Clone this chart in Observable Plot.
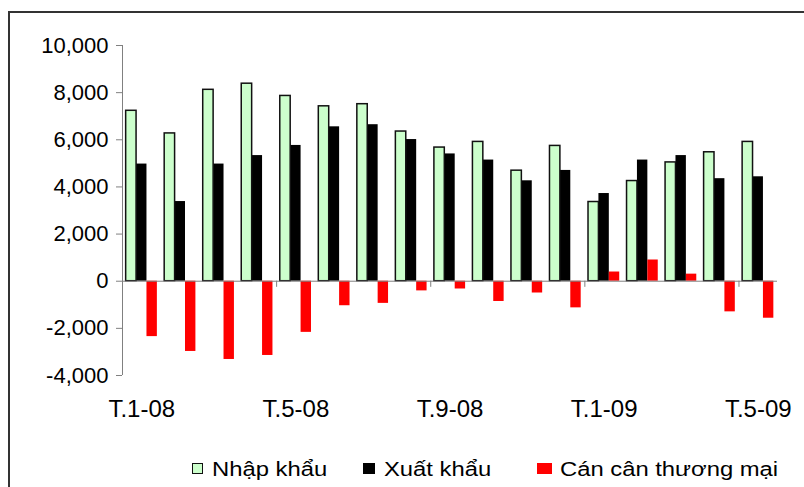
<!DOCTYPE html>
<html>
<head>
<meta charset="utf-8">
<script src="https://cdn.jsdelivr.net/npm/d3@7"></script>
<script src="https://cdn.jsdelivr.net/npm/@observablehq/plot@0.6"></script>
<style>
  body { margin: 0; background: white; }
  #wrap { position: relative; width: 804px; height: 487px; overflow: hidden; background: white;
          font-family: "Liberation Sans", Arial, sans-serif; }
  #frame { position: absolute; left: 8px; top: 11px; width: 900px; height: 600px; border: 2px solid #333; }
  #chart { position: absolute; left: 0; top: 0; }
  .lg-mark { position: absolute; top: 463px; height: 11px; box-sizing: border-box; }
  .lg-text { position: absolute; top: 459px; font-size: 20px; line-height: 20px; white-space: nowrap;
             transform: scaleX(1.19); transform-origin: left center; color: #000; }
</style>
</head>
<body>
<div id="wrap">
  <div id="frame"></div>
  <div id="chart"></div>
  <div id="legend"></div>
</div>
<script>
const months = ["T.1-08","T.2-08","T.3-08","T.4-08","T.5-08","T.6-08","T.7-08","T.8-08","T.9-08",
                "T.10-08","T.11-08","T.12-08","T.1-09","T.2-09","T.3-09","T.4-09","T.5-09"];
const importsV = [7230, 6270, 8120, 8380, 7860, 7420, 7510, 6350, 5670, 5910, 4690, 5740, 3360, 4250, 5040, 5470, 5910];
const exportsV = [4970, 3380, 4970, 5330, 5760, 6550, 6640, 6010, 5400, 5140, 4260, 4700, 3720, 5140, 5330, 4350, 4430];
const balanceV = [-2350, -2980, -3320, -3150, -2170, -1040, -940, -410, -330, -860, -500, -1130, 390, 900, 300, -1300, -1570];
const seriesNames = ["Nhập khẩu", "Xuất khẩu", "Cán cân thương mại"];
const seriesColors = ["#ccffcc", "#000000", "#ff0000"];
const yTicks = [-4000, -2000, 0, 2000, 4000, 6000, 8000, 10000];
const xTickLabels = ["T.1-08", "T.5-08", "T.9-08", "T.1-09", "T.5-09"];

const rows = [];
[importsV, exportsV, balanceV].forEach((vals, s) =>
  vals.forEach((v, i) => rows.push({month: months[i], i, s, series: seriesNames[s], value: v})));

const W = 0.27, G = (1 - 3 * W) / 2;
const tickIdx = xTickLabels.map(l => months.indexOf(l));
const fmt = d => d3.format(",")(d).replace("\u2212", "-");

const plot = Plot.plot({
  width: 804, height: 440,
  marginLeft: 122, marginRight: 27, marginTop: 45, marginBottom: 65,
  style: {fontFamily: "'Liberation Sans', Arial, sans-serif", background: "transparent", color: "black"},
  x: {domain: [0, months.length]},
  y: {domain: [-4000, 10000]},
  color: {domain: seriesNames, range: seriesColors},
  marks: [
    Plot.rect(rows.filter(d => d.s !== 0), {
      x1: d => d.i + G + d.s * W, x2: d => d.i + G + (d.s + 1) * W,
      y1: 0, y2: "value", fill: "series"
    }),
    Plot.rect(rows.filter(d => d.s === 0), {
      x1: d => d.i + G + d.s * W, x2: d => d.i + G + (d.s + 1) * W,
      y1: 0, y2: "value", fill: "series", stroke: "#111", strokeWidth: 1.5
    }),
    Plot.ruleX([0], {y1: -4000, y2: 10000, stroke: "#808080"}),
    Plot.ruleY([0], {x1: 0, x2: months.length, stroke: "#808080"}),
    Plot.ruleX(tickIdx, {y1: 0, y2: -260, stroke: "#808080"}),
    Plot.axisY({ticks: yTicks, tickFormat: fmt, tickSize: 6, tickPadding: 8, fontSize: 22,
                stroke: "#808080", fill: "black", label: null}),
    Plot.axisX({ticks: tickIdx.map(i => i + 0.5), tickFormat: d => months[d - 0.5],
                tickSize: 0, tickPadding: 24, fontSize: 24, fill: "black", label: null})
  ]
});
document.getElementById("chart").appendChild(plot);

// legend
const lg = document.getElementById("legend");
const lgMarkX = [192, 363, 537];
const lgMarkW = [11, 12, 15];
const lgTextX = [212, 384, 560];
seriesNames.forEach((name, s) => {
  const m = document.createElement("div");
  m.className = "lg-mark";
  m.style.left = lgMarkX[s] + "px";
  m.style.width = lgMarkW[s] + "px";
  m.style.background = seriesColors[s];
  if (s === 0) m.style.border = "1.5px solid #111";
  lg.appendChild(m);
  const t = document.createElement("div");
  t.className = "lg-text";
  t.style.left = lgTextX[s] + "px";
  t.textContent = name;
  lg.appendChild(t);
});
</script>
</body>
</html>
